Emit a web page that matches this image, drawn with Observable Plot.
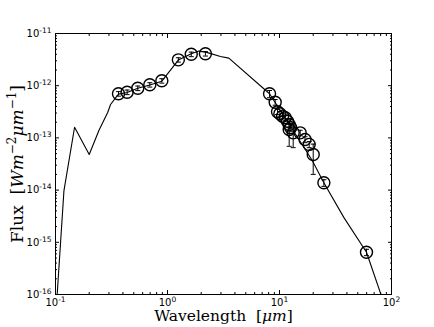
<!DOCTYPE html>
<html>
<head>
<meta charset="utf-8">
<script src="https://cdn.jsdelivr.net/npm/d3@7"></script>
<script src="https://cdn.jsdelivr.net/npm/@observablehq/plot@0.6"></script>
<style>
  body { margin: 0; background: #fff; }
  #chart svg { display: block; }
</style>
</head>
<body>
<div id="chart"></div>
<script>
// Model SED (solid line)
const modelWavelength = [0.1035, 0.119, 0.148, 0.2, 0.244, 0.293, 0.31, 0.365, 0.436, 0.543, 0.695, 0.89, 1.25, 1.63, 1.9, 2.2, 2.97, 3.53, 8.15, 12, 17, 19.6, 24.9, 37.5, 59.8, 80.5];
const modelFlux = [1.0e-16, 9.8e-15, 1.6e-13, 4.8e-14, 1.39e-13, 3.1e-13, 4.37e-13, 6.9e-13, 7.4e-13, 8.9e-13, 1.03e-12, 1.22e-12, 3.1e-12, 4.1e-12, 4.6e-12, 4.4e-12, 3.62e-12, 3.37e-12, 7.0e-13, 1.93e-13, 6.0e-14, 3.69e-14, 1.38e-14, 3.0e-15, 6.45e-16, 1.0e-16];

// Observed photometry (open circles with error bars)
const obsWavelength = [0.365, 0.436, 0.543, 0.695, 0.89, 1.25, 1.63, 2.18, 8.15, 9.15, 9.6, 10.07, 10.64, 11.25, 11.78, 12.2, 12.6, 12.2, 13.25, 15.3, 16.9, 18.4, 20.0, 24.9, 59.8];
const obsFlux = [7.0e-13, 7.5e-13, 8.95e-13, 1.04e-12, 1.24e-12, 3.13e-12, 4.0e-12, 4.1e-12, 7.0e-13, 4.83e-13, 3.16e-13, 2.9e-13, 2.61e-13, 2.43e-13, 2.09e-13, 1.81e-13, 1.56e-13, 1.45e-13, 1.25e-13, 1.25e-13, 9.3e-14, 7.5e-14, 4.8e-14, 1.38e-14, 6.45e-16];
const obsError = [0.7e-13, 0.75e-13, 0.9e-13, 1.0e-13, 1.2e-13, 0.3e-12, 0.4e-12, 0.4e-12, 1.1e-13, 0.6e-13, 0.35e-13, 0.3e-13, 0.3e-13, 0.3e-13, 0.25e-13, 0.25e-13, 0.25e-13, 7.6e-14, 6.0e-14, 0.15e-13, 1.2e-14, 1.0e-14, 2.8e-14, 0.2e-14, 0.9e-16];

const xTicks = [0.1, 1, 10, 100];
const xTickLabels = ["10^-1", "10^0", "10^1", "10^2"];
const yTicks = [1e-16, 1e-15, 1e-14, 1e-13, 1e-12, 1e-11];
const yTickLabels = ["10^-16", "10^-15", "10^-14", "10^-13", "10^-12", "10^-11"];

const xLabel = "Wavelength [μm]";
const yLabel = "Flux [Wm-2μm-1]";

const model = modelWavelength.map((x, i) => ({x, y: modelFlux[i]}));
const obs = obsWavelength.map((x, i) => ({x, y: obsFlux[i], lo: obsFlux[i] - obsError[i], hi: obsFlux[i] + obsError[i]}));

const minor = (majors) => majors.slice(0, -1).flatMap(d => d3.range(2, 10).map(k => d * k));
const xMinor = minor(xTicks);
const yMinor = minor(yTicks);
const xLabMap = new Map(xTicks.map((d, i) => [d, xTickLabels[i]]));
const yLabMap = new Map(yTicks.map((d, i) => [d, yTickLabels[i]]));

const capSymbol = {
  draw(context, size) {
    const w = Math.sqrt(size / Math.PI);
    context.moveTo(-w, 0);
    context.lineTo(w, 0);
  }
};

const tickFont = "DejaVu Sans";
const labelFont = "DejaVu Serif";
const tickOnly = (data, anchor, size) =>
  (anchor === "bottom" || anchor === "top" ? Plot.axisX : Plot.axisY)(data, {anchor, tickSize: size, fill: "none", label: null, stroke: "black"});

const chart = Plot.plot({
  width: 434,
  height: 327,
  marginLeft: 55,
  marginRight: 43,
  marginTop: 33,
  marginBottom: 33,
  style: {background: "white", color: "black"},
  x: {type: "log", domain: [0.1, 100], label: null},
  y: {type: "log", domain: [1e-16, 1e-11], label: null},
  marks: [
    Plot.line(model, {x: "x", y: "y", stroke: "black", strokeWidth: 1.1, clip: true}),
    Plot.ruleX(obs, {x: "x", y1: "lo", y2: "hi", stroke: "black", strokeWidth: 1}),
    Plot.dot(obs, {x: "x", y: "lo", symbol: capSymbol, r: 2.5, stroke: "black", strokeWidth: 1}),
    Plot.dot(obs, {x: "x", y: "hi", symbol: capSymbol, r: 2.5, stroke: "black", strokeWidth: 1}),
    Plot.dot(obs, {x: "x", y: "y", r: 6, stroke: "black", strokeWidth: 1.4, fill: "none"}),
    Plot.frame({stroke: "black", strokeWidth: 1}),
    tickOnly(xMinor, "bottom", -2),
    tickOnly(xMinor, "top", -2),
    tickOnly(xTicks, "bottom", -4),
    tickOnly(xTicks, "top", -4),
    tickOnly(yMinor, "left", -2),
    tickOnly(yMinor, "right", -2),
    tickOnly(yTicks, "left", -4),
    tickOnly(yTicks, "right", -4),
    Plot.axisX(xTicks, {anchor: "bottom", tickSize: 0, tickPadding: 4, label: null, tickFormat: d => xLabMap.get(d), fontSize: 10, fontFamily: tickFont}),
    Plot.axisY(yTicks, {anchor: "left", tickSize: 0, tickPadding: 4, label: null, tickFormat: d => yLabMap.get(d), fontSize: 10, fontFamily: tickFont}),
    Plot.text([xLabel], {frameAnchor: "bottom", textAnchor: "middle", lineAnchor: "middle", dy: 22, text: d => d, fontSize: 15.5, fontFamily: labelFont}),
    Plot.text([yLabel], {frameAnchor: "left", textAnchor: "middle", lineAnchor: "middle", dx: -38, rotate: -90, text: d => d, fontSize: 17, fontFamily: labelFont})
  ]
});

document.getElementById("chart").appendChild(chart);

// Rich text: superscript exponents on tick labels, math-style axis labels
const NS = "http://www.w3.org/2000/svg";
function setRich(textEl, segs) {
  textEl.textContent = "";
  let shift = 0;
  for (const s of segs) {
    const ts = document.createElementNS(NS, "tspan");
    ts.textContent = s.t;
    if (s.italic) ts.setAttribute("font-style", "italic");
    const target = s.sup ? -s.sup : 0;
    if (target !== shift) { ts.setAttribute("dy", target - shift); shift = target; }
    if (s.size) ts.setAttribute("font-size", s.size);
    textEl.appendChild(ts);
  }
}
chart.querySelectorAll("text").forEach(t => {
  const s = t.textContent;
  if (/^10\^/.test(s)) {
    const exp = s.split("^")[1];
    setRich(t, [{t: "10"}, {t: exp, sup: 4, size: 7.5}]);
  } else if (s === xLabel) {
    setRich(t, [{t: "Wavelength\u00a0 ["}, {t: "μm", italic: true}, {t: "]"}]);
  } else if (s === yLabel) {
    setRich(t, [{t: "Flux\u00a0 ["}, {t: "Wm", italic: true}, {t: "−2", sup: 7, size: 12}, {t: "μm", italic: true}, {t: "−1", sup: 7, size: 12}, {t: "]"}]);
  }
});
</script>
</body>
</html>
